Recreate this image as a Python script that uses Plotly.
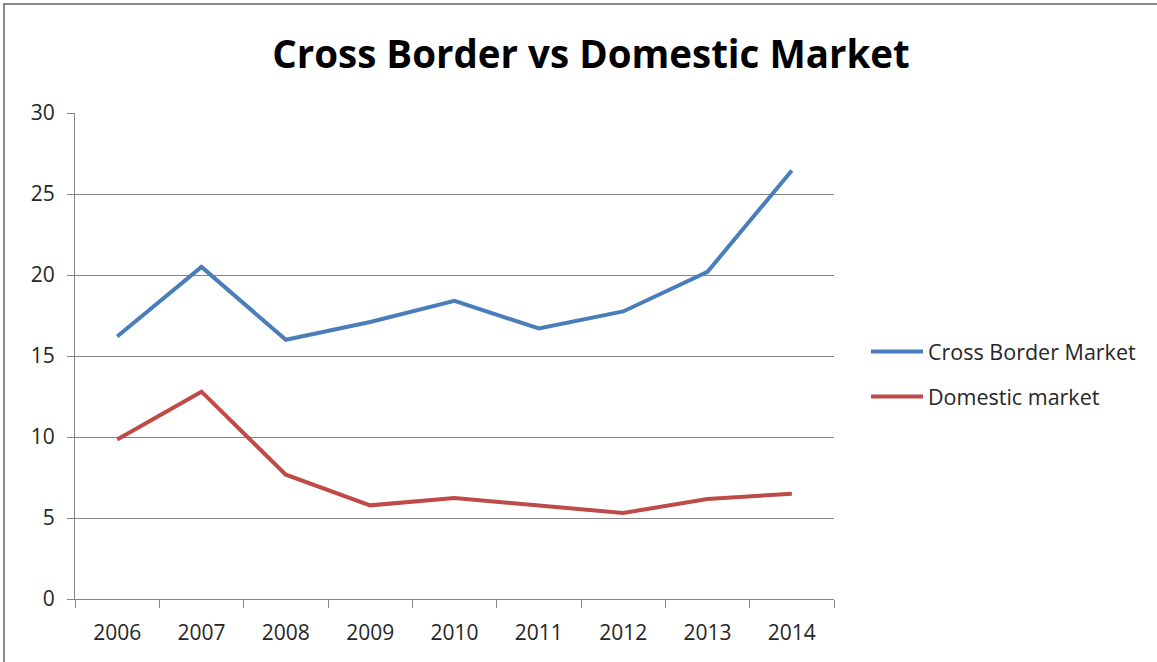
import plotly.graph_objects as go

years = ["2006", "2007", "2008", "2009", "2010", "2011", "2012", "2013", "2014"]
cross_border = [16.2, 20.5, 16.0, 17.1, 18.4, 16.7, 17.75, 20.2, 26.45]
domestic = [9.85, 12.8, 7.67, 5.78, 6.23, 5.76, 5.31, 6.17, 6.5]
y_ticks = [0, 5, 10, 15, 20, 25, 30]

W, H = 1157, 662
L, R, T, B = 75, 1157 - 834, 113, 662 - 599
pw, ph = W - L - R, H - T - B

def px_x(px):
    return (px - L) / pw

def px_y(py):
    return (H - B - py) / ph

fig = go.Figure()
fig.add_trace(go.Scatter(x=years, y=cross_border, mode="lines", name="Cross Border Market",
                         line=dict(color="#4A7EBB", width=4), legendgroup="a"))
fig.add_trace(go.Scatter(x=years, y=domestic, mode="lines", name="Domestic market",
                         line=dict(color="#BE4B48", width=4), legendgroup="b"))

fig.update_layout(
    width=W, height=H,
    margin=dict(l=L, r=R, t=T, b=B),
    paper_bgcolor="white", plot_bgcolor="white",
    font=dict(family="Open Sans", color="#262626"),
    title=dict(text="<b>Cross Border vs Domestic Market</b>", x=591 / W, xref="container",
               xanchor="center", y=1 - 55 / H, yref="container", yanchor="middle",
               font=dict(family="Open Sans", size=38.5, color="black")),
    showlegend=True,
    legend=dict(x=px_x(866), xanchor="left", y=px_y(374), yanchor="middle",
                font=dict(size=21.5, color="#262626"), tracegroupgap=14,
                bgcolor="rgba(0,0,0,0)", itemwidth=52),
    xaxis=dict(type="category", range=[-0.5, 8.5], showgrid=False, showline=True,
               linecolor="#868686", linewidth=1, ticks="outside", ticklen=8,
               tickcolor="#868686", tickson="boundaries", tickfont=dict(size=21),
               ticklabelstandoff=15),
    yaxis=dict(range=[0, 30], tickvals=y_ticks, showgrid=True, gridcolor="#868686",
               gridwidth=1, showline=True, linecolor="#868686", linewidth=1,
               ticks="outside", ticklen=7, tickcolor="#868686", tickfont=dict(size=21),
               ticklabelstandoff=8, zeroline=False),
    shapes=[dict(type="rect", xref="paper", yref="paper",
                 x0=px_x(4), x1=px_x(1165), y0=px_y(670), y1=px_y(4),
                 line=dict(color="#8A8A8A", width=2), layer="below")],
)

fig.write_html("out.html")
